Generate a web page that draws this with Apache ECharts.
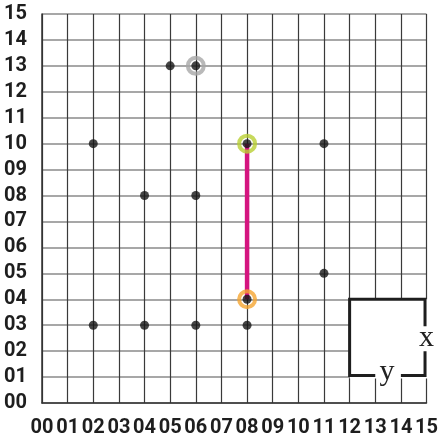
<!DOCTYPE html>
<html>
<head>
<meta charset="utf-8">
<script src="https://cdn.jsdelivr.net/npm/echarts@6/dist/echarts.min.js"></script>
<style>
html,body{margin:0;padding:0;background:#fff;}
#c{width:441px;height:439px;}
</style>
</head>
<body>
<div id="c"></div>
<script>
// tick labels
const tickLabels = ['00','01','02','03','04','05','06','07','08','09','10','11','12','13','14','15'];
// black dots
const dotX = [5, 6, 2, 8, 11, 4, 6, 11, 8, 2, 4, 6, 8];
const dotY = [13, 13, 10, 10, 10, 8, 8, 5, 4, 3, 3, 3, 3];
// rings
const ringX = [6, 8, 8];
const ringY = [13, 10, 4];
const ringColors = ['#a7a7a7', '#b9d033', '#f5a531'];
// magenta segment
const segX = [8, 8];
const segY = [4, 10];
// box annotation: [left x, top y, right x, bottom y]
const boxCorners = [12, 4, 15, 1];
// gaps: right edge between y values, bottom edge between x values
const rightGap = [2, 3];
const bottomGap = [13, 14];
const boxLabels = ['x', 'y'];

const chart = echarts.init(document.getElementById('c'), null, {renderer: 'canvas'});

const labelFont = {fontFamily: 'Roboto', fontWeight: 'bold', fontSize: 20, color: '#1e1e1e'};

const option = {
  animation: false,
  grid: {left: 42, right: 9, top: 14, bottom: 36, containLabel: false},
  xAxis: {
    type: 'value', min: 0, max: 15, interval: 1,
    axisLine: {show: true, lineStyle: {color: '#333', width: 1.5}},
    axisTick: {show: false},
    axisLabel: Object.assign({margin: 15, formatter: v => tickLabels[v]}, labelFont),
    splitLine: {show: true, showMinLine: true, showMaxLine: true, lineStyle: {color: '#3a3a3a', width: 1.2}}
  },
  yAxis: {
    type: 'value', min: 0, max: 15, interval: 1,
    axisLine: {show: true, lineStyle: {color: '#333', width: 1.5}},
    axisTick: {show: false},
    axisLabel: Object.assign({margin: 15, padding: [8, 0, 0, 0], formatter: v => tickLabels[v]}, labelFont),
    splitLine: {show: true, showMinLine: true, showMaxLine: true, lineStyle: {color: '#8a8a8a', width: 1.6}}
  },
  series: [
    {
      type: 'line',
      data: segX.map((x, i) => [x, segY[i]]),
      symbol: 'none',
      lineStyle: {color: '#d4157f', width: 4.5},
      z: 3
    },
    {
      type: 'scatter',
      data: ringX.map((x, i) => ({value: [x, ringY[i]], itemStyle: {borderColor: ringColors[i]}})),
      symbol: 'circle',
      symbolSize: 16,
      itemStyle: {color: 'rgba(0,0,0,0)', borderWidth: 4},
      z: 4
    },
    {
      type: 'scatter',
      data: dotX.map((x, i) => [x, dotY[i]]),
      symbol: 'circle',
      symbolSize: 9,
      itemStyle: {color: '#161616'},
      z: 5
    },
    {
      type: 'custom',
      data: [boxCorners],
      z: 6,
      renderItem: function (params, api) {
        const tl = api.coord([api.value(0), api.value(1)]);
        const br = api.coord([api.value(2), api.value(3)]);
        const rx = br[0] - 1.5, by = br[1] - 1.5;
        const g1 = api.coord([boxCorners[2], rightGap[1]]);
        const g2 = api.coord([boxCorners[2], rightGap[0]]);
        const b1 = api.coord([bottomGap[0], boxCorners[3]]);
        const b2 = api.coord([bottomGap[1], boxCorners[3]]);
        const ls = {stroke: '#1e1e1e', lineWidth: 3, fill: null, lineJoin: 'miter'};
        const xc = api.coord([boxCorners[2], (rightGap[0] + rightGap[1]) / 2]);
        const yc = api.coord([(bottomGap[0] + bottomGap[1]) / 2, boxCorners[3]]);
        return {
          type: 'group',
          children: [
            {type: 'rect', shape: {x: tl[0], y: tl[1], width: br[0] - tl[0] + 1.5, height: br[1] - tl[1] + 1.5}, style: {fill: '#fff'}},
            {type: 'polyline', shape: {points: [[rx, g1[1] + 1], [rx, tl[1]], [tl[0], tl[1]], [tl[0], by], [b1[0], by]]}, style: ls},
            {type: 'polyline', shape: {points: [[b2[0], by], [rx, by], [rx, g2[1]]]}, style: ls},
            {type: 'text', x: xc[0], y: xc[1], style: {text: boxLabels[0], fontFamily: 'Liberation Serif', fontSize: 30, fill: '#222', align: 'center', verticalAlign: 'middle'}},
            {type: 'text', x: yc[0] - 1, y: yc[1] - 5, style: {text: boxLabels[1], fontFamily: 'Liberation Serif', fontSize: 30, fill: '#222', align: 'center', verticalAlign: 'middle'}}
          ]
        };
      }
    }
  ]
};
chart.setOption(option);
</script>
</body>
</html>
